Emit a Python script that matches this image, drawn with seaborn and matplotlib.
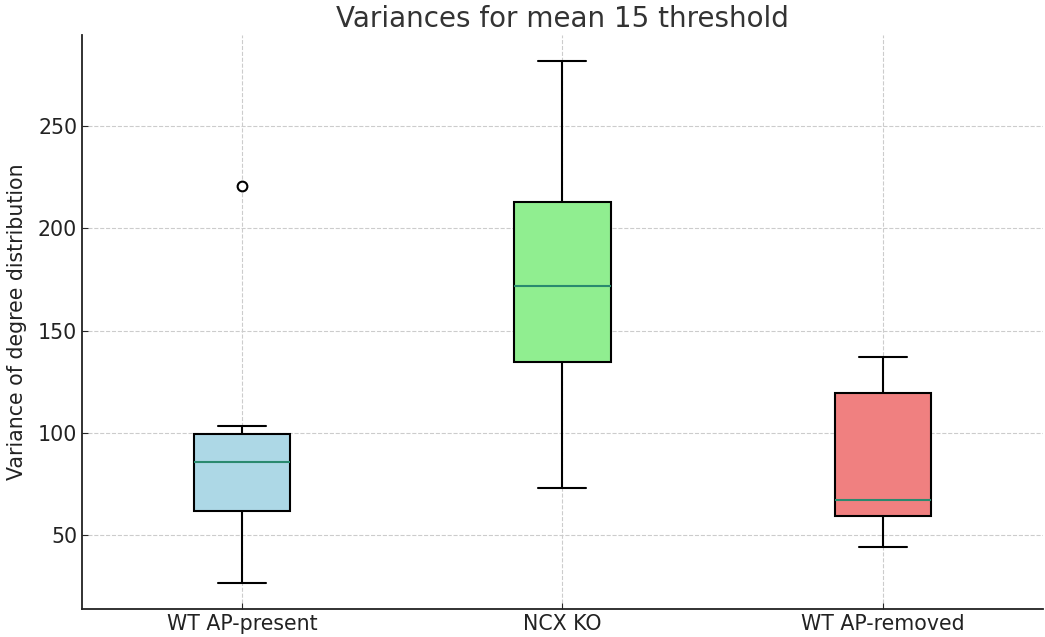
import pandas as pd
import matplotlib
matplotlib.use("Agg")
import matplotlib.pyplot as plt
import seaborn as sns

# Valores (varianza de la distribucion de grados)
grupos = ["WT AP-present", "NCX KO", "WT AP-removed"]
wt_present = [26.5, 54.5, 83.8, 87.8, 103.4, 221.0]
ncx_ko = [73.0, 134.8, 171.6, 212.7, 281.9]
wt_removed = [44.1, 59.3, 67.2, 119.6, 137.3]
colores = ["lightblue", "lightgreen", "lightcoral"]

df = pd.DataFrame({
    "grupo": [grupos[0]] * len(wt_present) + [grupos[1]] * len(ncx_ko) + [grupos[2]] * len(wt_removed),
    "varianza": wt_present + ncx_ko + wt_removed,
})

sns.set_style("ticks")
plt.rcParams["font.family"] = ["DejaVu Sans"]

fig, ax = plt.subplots(figsize=(10.45, 6.37), dpi=100)
fig.subplots_adjust(left=0.0785, right=0.998, top=0.945, bottom=0.044)

sns.boxplot(
    data=df, x="grupo", y="varianza", hue="grupo", order=grupos,
    palette=colores, saturation=1, legend=False, width=0.3, ax=ax,
    linecolor="black", linewidth=1.5, capwidths=0.15,
    medianprops=dict(color="#2a8a6f", linewidth=1.5),
    flierprops=dict(marker="o", markerfacecolor="white", markeredgecolor="black",
                    markersize=7, markeredgewidth=1.5),
    zorder=3,
)

ax.set_title("Variances for mean 15 threshold", fontsize=20, color="#333333")
ax.set_xlabel("")
ax.set_ylabel("Variance of degree distribution", fontsize=14.8, color="#222222", labelpad=8)
ax.tick_params(direction="in", labelsize=14.8, labelcolor="#222222", length=4)
ax.grid(True, linestyle="--", color="#cccccc", linewidth=0.8)
ax.set_axisbelow(True)
sns.despine(ax=ax)
for s in ["left", "bottom"]:
    ax.spines[s].set_linewidth(1.3)
    ax.spines[s].set_color("#222222")

fig.savefig("out.png", dpi=100)
